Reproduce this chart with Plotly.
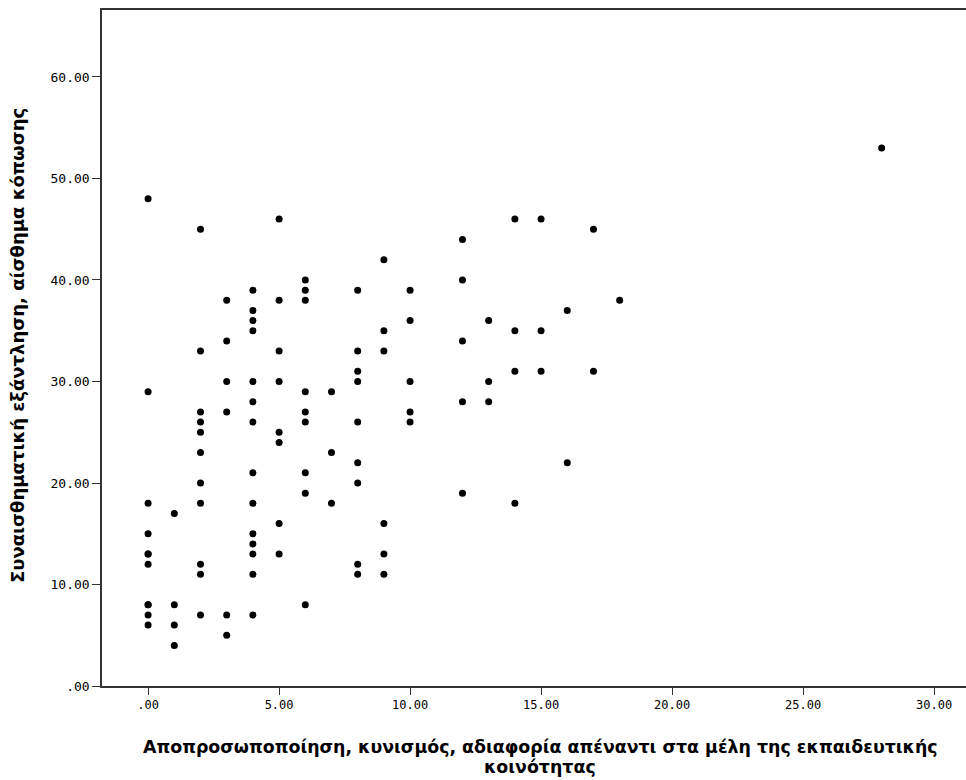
import plotly.graph_objects as go

# Data (x = depersonalisation score, y = emotional exhaustion score)
x_vals = (
    [0] * 11 + [1] * 4 + [2] * 11 + [3] * 6 + [4] * 14 + [5] * 8 + [6] * 9 + [7] * 3
    + [8] * 9 + [9] * 6 + [10] * 5 + [12] * 5 + [13] * 3 + [14] * 4 + [15] * 3
    + [16] * 2 + [17] * 2 + [18] + [28]
)
y_vals = (
    [48, 29, 18, 15, 13, 13, 12, 8, 8, 7, 6]
    + [17, 8, 6, 4]
    + [45, 33, 27, 26, 25, 23, 20, 18, 12, 11, 7]
    + [38, 34, 30, 27, 7, 5]
    + [39, 37, 36, 35, 30, 28, 26, 21, 18, 15, 14, 13, 11, 7]
    + [46, 38, 33, 30, 25, 24, 16, 13]
    + [40, 39, 38, 29, 27, 26, 21, 19, 8]
    + [29, 23, 18]
    + [39, 33, 31, 30, 26, 22, 20, 12, 11]
    + [42, 35, 33, 16, 13, 11]
    + [39, 36, 30, 27, 26]
    + [44, 40, 34, 28, 19]
    + [36, 30, 28]
    + [46, 35, 31, 18]
    + [46, 35, 31]
    + [37, 22]
    + [45, 31]
    + [38]
    + [53]
)

x_ticks = [0, 5, 10, 15, 20, 25, 30]
x_tick_text = [".00", "5.00", "10.00", "15.00", "20.00", "25.00", "30.00"]
y_ticks = [0, 10, 20, 30, 40, 50, 60]
y_tick_text = [".00", "10.00", "20.00", "30.00", "40.00", "50.00", "60.00"]

x_title_lines = [
    "Αποπροσωποποίηση, κυνισμός, αδιαφορία απέναντι στα μέλη της εκπαιδευτικής",
    "κοινότητας",
]
y_title = "Συναισθηματική εξάντληση, αίσθημα κόπωσης"

fig = go.Figure(
    go.Scatter(
        x=x_vals,
        y=y_vals,
        mode="markers",
        marker=dict(color="black", size=7, line=dict(width=0)),
        showlegend=False,
    )
)

x_title_font = dict(family="DejaVu Sans", size=17.4, color="black")
y_title_font = dict(family="DejaVu Sans", size=18, color="black")
axis_col = "#333333"

fig.update_layout(
    width=966,
    height=780,
    margin=dict(l=102, r=0, t=10, b=94),
    paper_bgcolor="white",
    plot_bgcolor="white",
    xaxis=dict(
        range=[-1.76, 31.22],
        tickvals=x_ticks,
        ticktext=x_tick_text,
        showgrid=False,
        zeroline=False,
        showline=True,
        linecolor=axis_col,
        linewidth=1.5,
        mirror=True,
        ticks="outside",
        ticklen=7,
        tickcolor=axis_col,
        tickfont=dict(family="DejaVu Sans Mono", size=12, color="black"),
    ),
    yaxis=dict(
        range=[0, 66.6],
        tickvals=y_ticks,
        ticktext=y_tick_text,
        showgrid=False,
        zeroline=False,
        showline=True,
        linecolor=axis_col,
        linewidth=1.5,
        ticks="outside",
        ticklen=8,
        tickcolor=axis_col,
        tickfont=dict(family="DejaVu Sans Mono", size=13, color="black"),
    ),
    annotations=[
        dict(
            text="<b>" + x_title_lines[0] + "</b>",
            xref="paper", yref="paper", x=0.507, y=-0.0902,
            xanchor="center", yanchor="middle", showarrow=False, font=x_title_font,
        ),
        dict(
            text="<b>" + x_title_lines[1] + "</b>",
            xref="paper", yref="paper", x=0.507, y=-0.1198,
            xanchor="center", yanchor="middle", showarrow=False, font=x_title_font,
        ),
        dict(
            text="<b>" + y_title + "</b>",
            xref="paper", yref="paper", x=-0.0972, y=0.503,
            xanchor="center", yanchor="middle", textangle=-90,
            showarrow=False, font=y_title_font,
        ),
    ],
)

fig.write_html("out.html")
